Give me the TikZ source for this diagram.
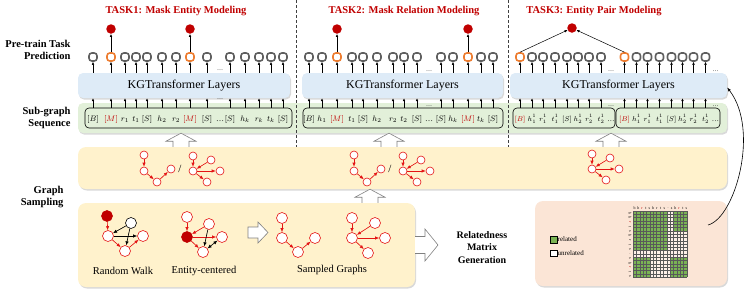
\documentclass[tikz,border=0pt]{standalone}
\usepackage{fontspec}
\setmainfont{Liberation Serif}
\usepackage{amsmath}
\usetikzlibrary{arrows.meta, shadows, positioning, calc}

\definecolor{taskred}{RGB}{192,0,0}
\definecolor{gred}{RGB}{228,20,20}
\definecolor{kgblue}{RGB}{222,235,247}
\definecolor{seqgreen}{RGB}{226,240,217}
\definecolor{sampyellow}{RGB}{255,242,204}
\definecolor{genpeach}{RGB}{251,229,214}
\definecolor{sqorange}{RGB}{237,125,49}
\definecolor{sqgray}{RGB}{95,95,95}
\definecolor{relgreen}{RGB}{122,180,84}
\definecolor{unrel}{RGB}{253,240,232}

\tikzset{
  panel/.style={rounded corners=8pt, inner sep=0pt,
    drop shadow={shadow xshift=1pt, shadow yshift=-1.5pt, opacity=0.3}},
  kgbox/.style={panel, rounded corners=5pt, fill=kgblue, minimum height=25,
    font=\fontsize{12}{14}\selectfont},
  seqbox/.style={draw=black, rounded corners=4pt, line width=0.6pt,
    minimum height=20, inner sep=0pt},
  tok/.style={inner sep=0pt, anchor=base, font=\fontsize{8}{9}\selectfont},
  smalltok/.style={tok, font=\fontsize{7.2}{8}\selectfont},
  dotmark/.style={inner sep=0pt, font=\fontsize{6}{7}\selectfont},
  sqg/.style={draw=sqgray, fill=white, line width=1.6pt, rounded corners=2.8pt,
    minimum size=8, inner sep=0pt},
  sqo/.style={sqg, draw=sqorange},
  hit/.style={circle, fill=taskred, minimum size=9.5, inner sep=0pt},
  arr/.style={-{Latex[length=3pt,width=2.6pt]}, line width=0.5pt},
  gn/.style={circle, draw=gred, fill=white, line width=0.6pt, minimum size=8, inner sep=0pt},
  gnb/.style={gn, minimum size=11},
  garr/.style={-{Latex[length=4pt,width=3.4pt]}, draw=gred, fill=gred, line width=0.6pt},
  karr/.style={garr, draw=black, fill=black},
  hollow/.style={draw=black!50, fill=white, line width=0.6pt},
  lab/.style={font=\fontsize{10.5}{12}\selectfont\bfseries, align=right, anchor=east},
  task/.style={font=\fontsize{10.5}{12}\selectfont\bfseries, text=taskred},
  gcaption/.style={font=\fontsize{10.5}{12}\selectfont},
  mlab/.style={inner sep=0pt, font=\fontsize{4}{4}\selectfont, text=black!70},
}

\begin{document}
\begin{tikzpicture}[x=1pt, y=-1pt]
\useasboundingbox (0,0) rectangle (747,293);

\node[task] (task1) at (176,11) {TASK1: Mask Entity Modeling};
\node[task] (task2) at (404,11) {TASK2: Mask Relation Modeling};
\node[task] (task3) at (594,11) {TASK3: Entity Pair Modeling};

\node[lab] (lpred) at (74,50) {Pre-train Task\\Prediction};
\node[lab] (lseq) at (74,118) {Sub-graph\\Sequence};
\node[lab] (lsamp) at (67,197) {Graph\\Sampling};

% sequence band and transformer layers
\node[panel, rounded corners=5pt, fill=seqgreen, minimum width=649, minimum height=30] (band) at (402.5,118) {};
\node[seqbox, minimum width=207] (seq1) at (188.5,118) {};
\node[seqbox, minimum width=200] (seq2) at (403,118) {};
\node[seqbox, minimum width=102] (seq3a) at (564,118) {};
\node[seqbox, minimum width=104] (seq3b) at (668,118) {};

\node[kgbox, minimum width=212] (kg1) at (184,85.5) {KGTransformer Layers};
\node[kgbox, minimum width=201] (kg2) at (402.5,85.5) {KGTransformer Layers};
\node[kgbox, minimum width=217] (kg3) at (618.5,85.5) {KGTransformer Layers};

% task 1
\foreach \x/\lbl/\kind [count=\i] in {93/{$[B]$}/g, 111/{\color{taskred}$[M]$}/o, 125/{$r_1$}/g,
    136/{$t_1$}/g, 147/{$[S]$}/g, 162/{$h_2$}/g, 176/{$r_2$}/g, 190/{\color{taskred}$[M]$}/o,
    207/{$[S]$}/g, 220/{\dots}/d, 230/{$[S]$}/g, 245/{$h_k$}/g, 259/{$r_k$}/g, 271/{$t_k$}/g,
    283/{$[S]$}/g}{
  \node[tok] (a\i) at (\x,121) {\lbl};
  \if d\kind
    \node[dotmark] (da\i) at (\x,99) {\dots};
    \node[dotmark] (ea\i) at (\x,70) {\dots};
  \else
    \draw[arr] (a\i |- seq1.north) -- (a\i |- kg1.south);
    \node[sq\kind] (pa\i) at (\x,57) {};
    \draw[arr] (a\i |- kg1.north) -- (pa\i.south);
  \fi
}
\node[hit] (ra2) at (111,29) {};
\node[hit] (ra8) at (190,29) {};
\draw[arr] (pa2.north) -- (ra2);
\draw[arr] (pa8.north) -- (ra8);

% task 2
\foreach \x/\lbl/\kind [count=\i] in {309/{$[B]$}/g, 322/{$h_1$}/g, 337/{\color{taskred}$[M]$}/o,
    352/{$t_1$}/g, 363/{$[S]$}/g, 377/{$h_2$}/g, 393/{$r_2$}/g, 404/{$t_2$}/g, 417/{$[S]$}/g,
    429/{\dots}/d, 441/{$[S]$}/g, 453/{$h_k$}/g, 468/{\color{taskred}$[M]$}/o, 481/{$t_k$}/g,
    493/{$[S]$}/g}{
  \node[tok] (b\i) at (\x,121) {\lbl};
  \if d\kind
    \node[dotmark] (db\i) at (\x,106) {\dots};
    \node[dotmark] (eb\i) at (\x,71) {\dots};
  \else
    \draw[arr] (b\i |- seq2.north) -- (b\i |- kg2.south);
    \node[sq\kind] (pb\i) at (\x,57) {};
    \draw[arr] (b\i |- kg2.north) -- (pb\i.south);
  \fi
}
\node[hit] (rb3) at (337,29) {};
\node[hit] (rb13) at (468,29) {};
\draw[arr] (pb3.north) -- (rb3);
\draw[arr] (pb13.north) -- (rb13);

% task 3
\foreach \s/\b/\xo in {c/seq3a/0, d/seq3b/104.5}{
  \foreach \x/\lbl/\kind [count=\i] in {520/{\color{taskred}$[B]$}/o, 532/{$h_1^1$}/g,
      543/{$r_1^1$}/g, 555/{$t_1^1$}/g, 567/{$[S]$}/g, 578/{$h_2^1$}/g, 589/{$r_2^1$}/g,
      601/{$t_2^1$}/g, 611/{\dots}/d}{
    \node[smalltok] (\s\i) at (\x+\xo,121) {\lbl};
    \if d\kind
      \node[dotmark] (d\s\i) at (\x+\xo,106) {\dots};
      \node[dotmark] (e\s\i) at (\x+\xo,71) {\dots};
    \else
      \draw[arr] (\s\i |- \b.north) -- (\s\i |- kg3.south);
      \node[sq\kind] (p\s\i) at (\x+\xo,57) {};
      \draw[arr] (\s\i |- kg3.north) -- (p\s\i.south);
    \fi
  }
}
\node[hit] (rc) at (572,28) {};
\draw[arr] (pc1.north) -- (rc);
\draw[arr] (pd1.north) -- (rc);

% graph sampling
\node[panel, fill=sampyellow, minimum width=649, minimum height=42] (mid) at (402.5,168) {};
\node[panel, fill=sampyellow, minimum width=337, minimum height=84] (low) at (246.5,245) {};
\node[panel, fill=genpeach, minimum width=192, minimum height=85] (gen) at (631,243.5) {};

\draw[dashed, dash pattern=on 3pt off 2pt, black!75, line width=0.6pt] (296,0) -- (296,147);
\draw[dashed, dash pattern=on 3pt off 2pt, black!75, line width=0.6pt] (508,0) -- (508,147);

\foreach \x/\lo/\up [count=\i] in {181/mid/band, 389/mid/band, 611/mid/band, 370/low/mid}{
  \coordinate (tip\i) at (\x,0 |- \up.south);
  \coordinate (base\i) at (\x,0 |- \lo.north);
  \draw[hollow] ($(base\i)+(-8,0)$) -- ($(tip\i)+(-8,8)$) -- ($(tip\i)+(-15,8)$) -- (tip\i)
    -- ($(tip\i)+(15,8)$) -- ($(tip\i)+(8,8)$) -- ($(base\i)+(8,0)$);
}

\foreach \s/\dx in {m/0, n/210}{
  \begin{scope}[xshift=\dx]
    \node[gn] (\s c1) at (144,155) {};
    \node[gn] (\s c2) at (144,171) {};
    \node[gn] (\s c3) at (157,182) {};
    \node[gn] (\s c4) at (171,169) {};
    \draw[garr] (\s c1) -- (\s c2);
    \draw[garr] (\s c2) -- (\s c3);
    \draw[garr] (\s c3) -- (\s c4);
    \node[font=\fontsize{11}{12}\selectfont] (\s sl) at (180,169) {/};
    \node[gn] (\s s0) at (193,171) {};
    \node[gn] (\s s1) at (193,156) {};
    \node[gn] (\s s2) at (211,160) {};
    \node[gn] (\s s3) at (220,171) {};
    \node[gn] (\s s4) at (207,182) {};
    \draw[garr] (\s s1) -- (\s s0);
    \draw[garr] (\s s2) -- (\s s0);
    \draw[garr] (\s s0) -- (\s s3);
    \draw[garr] (\s s0) -- (\s s4);
  \end{scope}
}
\node[gn] (os0) at (592,169) {};
\node[gn] (os1) at (592,154) {};
\node[gn] (os2) at (610,158) {};
\node[gn] (os3) at (619,169) {};
\node[gn] (os4) at (606,180) {};
\draw[garr] (os1) -- (os0);
\draw[garr] (os2) -- (os0);
\draw[garr] (os0) -- (os3);
\draw[garr] (os0) -- (os4);

% random walk
\node[gnb, fill=taskred, draw=taskred] (rw1) at (107,216) {};
\node[gnb, draw=black] (rwk) at (131,223) {};
\node[gnb] (rw2) at (108,236) {};
\node[gnb] (rw3) at (125,251) {};
\node[gnb] (rw4) at (143,236) {};
\draw[garr] (rw1) -- (rw2);
\draw[garr] (rw2) -- (rw3);
\draw[garr] (rw3) -- (rw4);
\draw[karr] (rwk) -- (rw2);
\draw[karr] (rwk) -- (rw3);
\draw[karr] (rw2) -- (rw4);
\node[gcaption] (cwalk) at (123,271) {Random Walk};

% entity-centered
\node[gnb] (ec1) at (187,217) {};
\node[gnb] (ec2) at (209,224) {};
\node[gnb, fill=taskred, draw=taskred] (ec0) at (187,237) {};
\node[gnb] (ec3) at (222,237) {};
\node[gnb] (ec4) at (203,252) {};
\draw[garr] (ec1) -- (ec0);
\draw[garr] (ec2) -- (ec0);
\draw[garr] (ec0) -- (ec3);
\draw[garr] (ec0) -- (ec4);
\draw[karr] (ec2) -- (ec4);
\draw[karr, {Latex[length=4pt,width=3.4pt]}-{Latex[length=4pt,width=3.4pt]}] (ec4) -- (ec3);
\node[gcaption] (centity) at (204,271) {Entity-centered};

\coordinate (inbase) at (248,232.5);
\coordinate (intip) at (268,232.5);
\draw[hollow] ($(inbase)+(0,-5.5)$) -- ($(intip)+(-10,-5.5)$) -- ($(intip)+(-10,-10.5)$) -- (intip)
  -- ($(intip)+(-10,10.5)$) -- ($(intip)+(-10,5.5)$) -- ($(inbase)+(0,5.5)$) -- cycle;

% sampled graphs
\node[gnb] (sc1) at (282,218) {};
\node[gnb] (sc2) at (282,238) {};
\node[gnb] (sc3) at (298,252) {};
\node[gnb] (sc4) at (315,238) {};
\draw[garr] (sc1) -- (sc2);
\draw[garr] (sc2) -- (sc3);
\draw[garr] (sc3) -- (sc4);
\node[gnb] (ss0) at (352,238) {};
\node[gnb] (ss1) at (352,218) {};
\node[gnb] (ss2) at (375,223) {};
\node[gnb] (ss3) at (385,238) {};
\node[gnb] (ss4) at (368,253) {};
\draw[garr] (ss1) -- (ss0);
\draw[garr] (ss2) -- (ss0);
\draw[garr] (ss0) -- (ss3);
\draw[garr] (ss0) -- (ss4);
\node[gcaption] (csampled) at (332,270) {Sampled Graphs};

% relatedness matrix
\node[font=\fontsize{10}{12.5}\selectfont\bfseries, align=center] (rel) at (482,247.5) {Relatedness\\Matrix\\Generation};
\coordinate (obase) at (low.east);
\coordinate (otip) at (438,245);
\draw[hollow] ($(obase)+(0,-8.5)$) -- ($(otip)+(-13,-8.5)$) -- ($(otip)+(-13,-16)$) -- (otip)
  -- ($(otip)+(-13,16)$) -- ($(otip)+(-13,8.5)$) -- ($(obase)+(0,8.5)$);

\node[draw=black, fill=relgreen, line width=0.5pt, minimum size=6.5, inner sep=0pt] (lgrel) at (553.5,239.5) {};
\node[right=0.5pt of lgrel, inner sep=0pt, font=\fontsize{7}{8}\selectfont] (lgreltxt) {related};
\node[draw=black, fill=white, line width=0.5pt, minimum size=6.5, inner sep=0pt] (lgun) at (553.5,253) {};
\node[right=0.5pt of lgun, inner sep=0pt, font=\fontsize{7}{8}\selectfont] (lguntxt) {unrelated};

\coordinate (mat) at (633,211);
\fill[unrel] (mat) rectangle ++(54,66);
\fill[relgreen] (mat) rectangle ++(10*3.375,12*3.3);
\fill[relgreen] ($(mat)+(12*3.375,0)$) rectangle ++(4*3.375,6*3.3);
\fill[relgreen] ($(mat)+(0,14*3.3)$) rectangle ++(5*3.375,6*3.3);
\fill[relgreen] ($(mat)+(11*3.375,14*3.3)$) rectangle ++(5*3.375,6*3.3);
\foreach \c in {0,...,16}
  \draw[black!65, line width=0.3pt] ($(mat)+(\c*3.375,0)$) -- ++(0,66);
\foreach \r in {0,...,20}
  \draw[black!65, line width=0.3pt] ($(mat)+(0,\r*3.3)$) -- ++(54,0);
\foreach \l/\col [count=\c] in {b/black, h/black, r/taskred, t/black, s/black, h/black, r/black,
    t/black, s/black, ./black, s/black, h/black, r/taskred, t/black, s/black}{
  \node[mlab, text=\col] (mc\c) at ($(mat)+(\c*3.7-2,-2.5)$) {\l};
  \node[mlab, text=\col, rotate=-90] (mr\c) at ($(mat)+(-3,\c*4.55-2.5)$) {\l};
}

\coordinate (cstart) at (708,225);
\draw[-{Latex[length=4pt,width=3pt]}, line width=0.6pt] (cstart) .. controls (735,218) and (760,130) .. ($(kg3.east)+(0,2)$);

\end{tikzpicture}
\end{document}
